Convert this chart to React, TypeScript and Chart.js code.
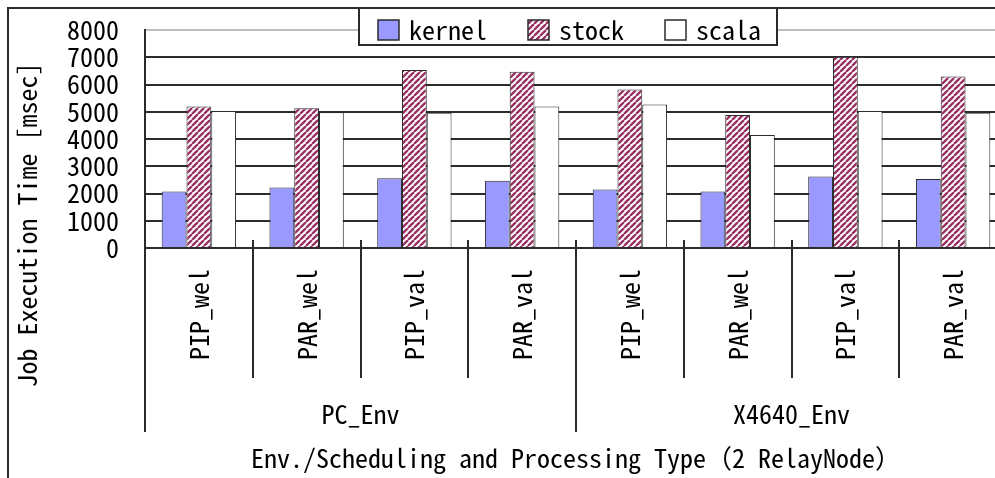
import { useEffect, useRef } from "react";
import { Chart, registerables } from "chart.js";

Chart.register(...registerables);

// Processing types, grouped by execution environment
const categories = ["PIP_wel", "PAR_wel", "PIP_val", "PAR_val", "PIP_wel", "PAR_wel", "PIP_val", "PAR_val"];
const environments = ["PC_Env", "X4640_Env"];

// Job execution time per scheduler [msec]
const seriesNames = ["kernel", "stock", "scala"];
const kernelMs = [2070, 2220, 2560, 2470, 2150, 2070, 2620, 2530];
const stockMs = [5190, 5130, 6530, 6470, 5820, 4880, 7020, 6290];
const scalaMs = [5030, 4980, 4960, 5190, 5270, 4150, 5030, 4960];

// Value axis
const yMin = 0;
const yMax = 8000;
const yStep = 1000;

const yTitle = "Job Execution Time [msec]";
const xTitle = "Env./Scheduling and Processing Type（2 RelayNode）";

const FONT = "'Noto Sans Mono CJK JP', 'DejaVu Sans Mono', monospace";
const FONT_SIZE = 26;
const INK = "#2b2b2b";

const CANVAS_W = 1030;
const CANVAS_H = 478;

// Maroon "/" hatching used for the stock bars
function makeHatch(): CanvasPattern | string {
  const size = 6;
  const c = document.createElement("canvas");
  c.width = size;
  c.height = size;
  const g = c.getContext("2d");
  if (!g) return "#993366";
  g.fillStyle = "#ffffff";
  g.fillRect(0, 0, size, size);
  g.strokeStyle = "#993366";
  g.lineWidth = 2.4;
  g.beginPath();
  for (const o of [-size, 0, size]) {
    g.moveTo(o, size);
    g.lineTo(o + size, 0);
  }
  g.stroke();
  return g.createPattern(c, "repeat") ?? "#993366";
}

// Outer frame, vertical axis title, cross tick marks and the boxed legend
const decorations = {
  id: "decorations",
  afterDraw(chart: Chart) {
    const { ctx, chartArea } = chart;
    const xScale = chart.scales.x;

    ctx.save();
    ctx.strokeStyle = INK;
    ctx.lineWidth = 2;
    ctx.beginPath();
    ctx.moveTo(8, chart.height);
    ctx.lineTo(8, 8);
    ctx.lineTo(chart.width, 8);
    ctx.stroke();

    ctx.beginPath();
    for (let i = 1; i < categories.length; i++) {
      const bx = Math.round((xScale.getPixelForValue(i - 1) + xScale.getPixelForValue(i)) / 2);
      ctx.moveTo(bx, chartArea.bottom - 8);
      ctx.lineTo(bx, chartArea.bottom);
    }
    ctx.stroke();

    ctx.font = `${FONT_SIZE}px ${FONT}`;
    ctx.fillStyle = "#000";
    ctx.textAlign = "center";
    ctx.textBaseline = "middle";
    ctx.translate(27, 225);
    ctx.rotate(-Math.PI / 2);
    ctx.fillText(yTitle, 0, 0);
    ctx.restore();

    // legend
    ctx.save();
    ctx.font = `${FONT_SIZE}px ${FONT}`;
    const sw = 21;
    const sh = 20;
    const gapText = 10;
    const gapItem = 41;
    const padL = 19;
    const padR = 16;
    const items = chart.data.datasets.map((ds) => ({
      label: String(ds.label),
      fill: ds.backgroundColor as any,
      w: ctx.measureText(String(ds.label)).width,
    }));
    const total =
      padL + items.reduce((s, it) => s + sw + gapText + it.w, 0) + gapItem * (items.length - 1) + padR;
    const left = 359;
    const top = 8;
    const h = 37;
    ctx.fillStyle = "#fff";
    ctx.fillRect(left, top, total, h);
    ctx.strokeStyle = INK;
    ctx.lineWidth = 2;
    ctx.strokeRect(left, top, total, h);
    let x = left + padL;
    const cy = 30;
    for (const it of items) {
      ctx.fillStyle = it.fill;
      ctx.fillRect(x, cy - sh / 2, sw, sh);
      ctx.lineWidth = 1.5;
      ctx.strokeStyle = INK;
      ctx.strokeRect(x, cy - sh / 2, sw, sh);
      ctx.fillStyle = "#000";
      ctx.textAlign = "left";
      ctx.textBaseline = "middle";
      ctx.fillText(it.label, x + sw + gapText, cy);
      x += sw + gapText + it.w + gapItem;
    }
    ctx.restore();
  },
};

export default function App() {
  const canvasRef = useRef<HTMLCanvasElement | null>(null);

  useEffect(() => {
    const canvas = canvasRef.current;
    if (!canvas) return;
    const hatch = makeHatch();
    const font = { family: FONT, size: FONT_SIZE };

    const chart = new Chart(canvas, {
      type: "bar",
      data: {
        labels: categories,
        datasets: [
          { label: seriesNames[0], data: kernelMs, backgroundColor: "#9999ff", borderColor: INK, borderWidth: 1 },
          { label: seriesNames[1], data: stockMs, backgroundColor: hatch as any, borderColor: INK, borderWidth: 1 },
          { label: seriesNames[2], data: scalaMs, backgroundColor: "#ffffff", borderColor: INK, borderWidth: 1 },
        ],
      },
      options: {
        responsive: false,
        animation: false,
        devicePixelRatio: 1,
        datasets: { bar: { categoryPercentage: 0.69, barPercentage: 1 } },
        layout: { padding: { top: 30, left: 0, right: 23, bottom: 0 } },
        plugins: { legend: { display: false }, tooltip: { enabled: false } },
        scales: {
          y: {
            min: yMin,
            max: yMax,
            ticks: {
              stepSize: yStep,
              autoSkip: false,
              padding: 0,
              color: "#000",
              font,
              callback: (v: any) => String(v),
            },
            grid: {
              drawTicks: true,
              tickLength: 26,
              tickColor: "rgba(0,0,0,0)",
              lineWidth: 2,
              color: (c: any) => (c.tick && c.tick.value === yMax ? "#bdbdbd" : INK),
            },
            border: { display: true, color: INK, width: 2 },
            afterFit: (s: any) => {
              s.width = 145;
            },
          },
          x: {
            type: "category",
            offset: true,
            weight: 0,
            ticks: {
              autoSkip: false,
              minRotation: 90,
              maxRotation: 90,
              padding: -109,
              color: "#000",
              font,
            },
            grid: { offset: true, drawOnChartArea: false, tickLength: 130, lineWidth: 2, color: INK },
            border: { display: true, color: INK, width: 2 },
            afterFit: (s: any) => {
              s.height = 130;
            },
          },
          x2: {
            type: "category",
            axis: "x",
            position: "bottom",
            labels: environments,
            offset: true,
            weight: 1,
            ticks: { autoSkip: false, maxRotation: 0, padding: -33, color: "#000", font },
            grid: { offset: true, drawOnChartArea: false, tickLength: 54, lineWidth: 2, color: INK },
            border: { display: false },
            title: { display: true, text: xTitle, color: "#000", font, padding: { top: 0, bottom: 4 } },
            afterFit: (s: any) => {
              s.height = 100;
            },
          },
        },
      } as any,
      plugins: [decorations as any],
    });

    return () => chart.destroy();
  }, []);

  return (
    <div style={{ position: "fixed", left: 0, top: 0, width: 995, height: 478, overflow: "hidden", background: "#fff" }}>
      <canvas ref={canvasRef} width={CANVAS_W} height={CANVAS_H} style={{ display: "block" }} />
    </div>
  );
}
